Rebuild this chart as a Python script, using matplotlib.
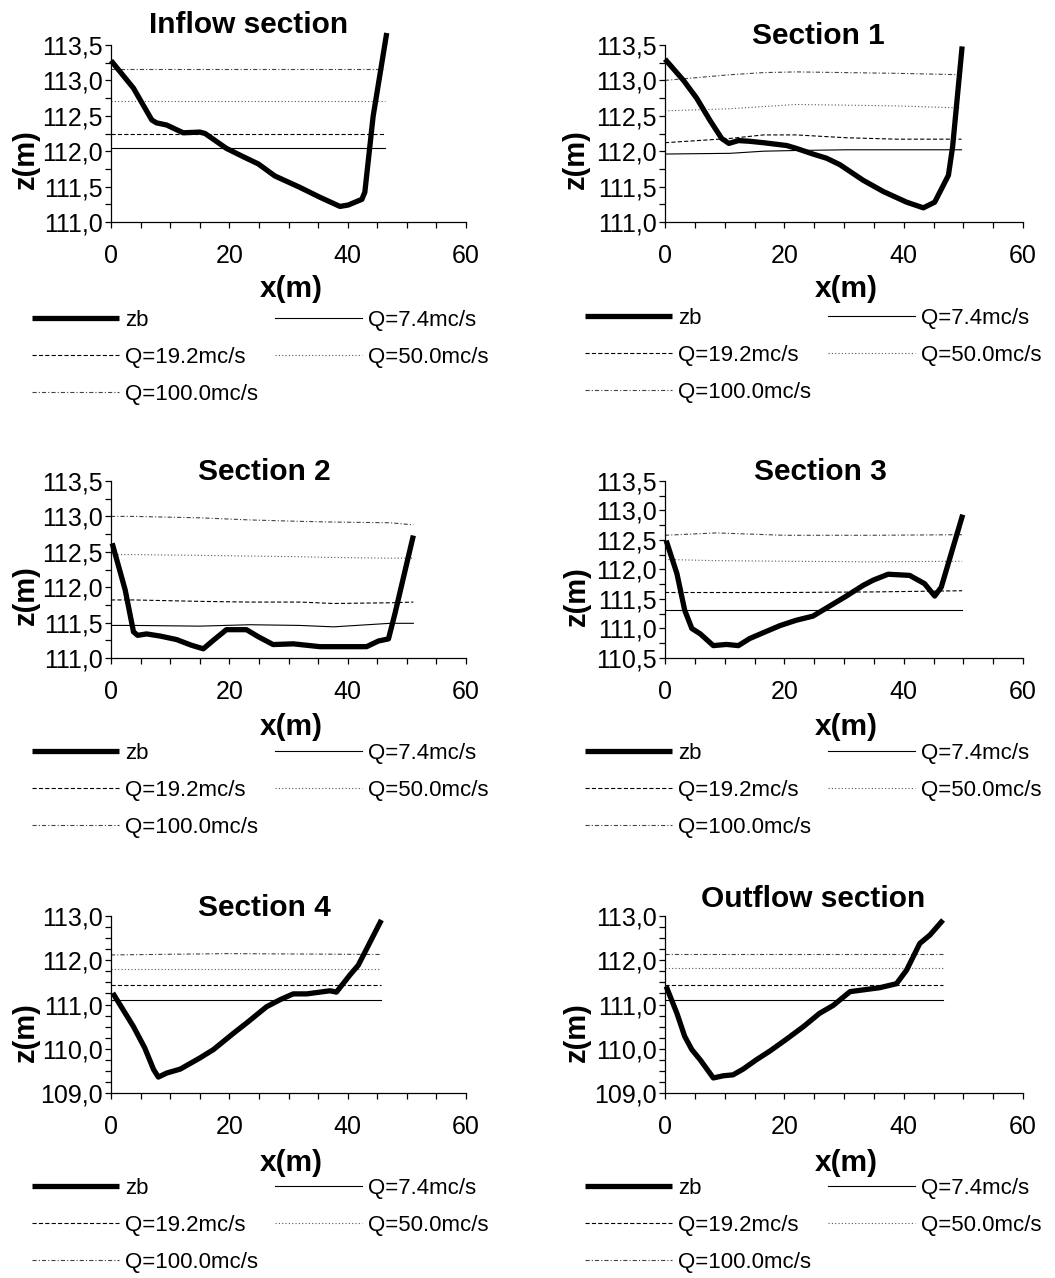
import matplotlib
matplotlib.use('Agg')
import matplotlib.pyplot as plt
from matplotlib.ticker import MultipleLocator, FuncFormatter

plt.rcParams['font.family'] = ['Liberation Sans', 'DejaVu Sans']
plt.rcParams['lines.scale_dashes'] = False

titles = ["Inflow section", "Section 1", "Section 2", "Section 3", "Section 4", "Outflow section"]
labels = ["zb", "Q=7.4mc/s", "Q=19.2mc/s", "Q=50.0mc/s", "Q=100.0mc/s"]

# ---- Inflow section ----
inflow_x = [0, 3.8, 6.9, 7.7, 9.4, 12.2, 15.0, 15.9, 19.5, 22.4, 24.9, 27.7, 31.9, 35.3, 38.7, 40.1, 42.4, 42.9, 44.3, 46.6]
inflow_zb = [113.28, 112.89, 112.44, 112.40, 112.37, 112.26, 112.27, 112.25, 112.04, 111.92, 111.82, 111.65, 111.49, 111.35, 111.22, 111.24, 111.32, 111.42, 112.49, 113.67]
inflow_wx = [0, 46.3]
inflow_q7 = [112.04, 112.04]
inflow_q19 = [112.24, 112.24]
inflow_q50 = [112.71, 112.71]
inflow_q100 = [113.16, 113.16]

# ---- Section 1 ----
sec1_x = [0, 3.1, 5.3, 7.5, 9.5, 10.7, 12.3, 14.2, 16.5, 20.4, 22.0, 24.8, 27.1, 29.3, 33.2, 36.6, 40.5, 43.3, 45.2, 47.5, 48.2, 49.8]
sec1_zb = [113.30, 113.00, 112.75, 112.44, 112.18, 112.11, 112.15, 112.14, 112.12, 112.08, 112.04, 111.96, 111.90, 111.81, 111.59, 111.43, 111.28, 111.20, 111.28, 111.66, 112.06, 113.48]
sec1_wx = [0, 10.9, 16.5, 22.0, 30.4, 38.8, 49.7]
sec1_q7 = [111.96, 111.97, 112.00, 112.01, 112.02, 112.02, 112.02]
sec1_q19 = [112.12, 112.18, 112.23, 112.23, 112.19, 112.17, 112.17]
sec1_q50 = [112.57, 112.60, 112.63, 112.66, 112.65, 112.64, 112.61]
sec1_q100 = [113.00, 113.08, 113.11, 113.12, 113.11, 113.10, 113.08]

# ---- Section 2 ----
sec2_x = [0.2, 2.4, 3.8, 4.5, 6.0, 8.3, 11.1, 13.6, 15.6, 17.3, 19.5, 22.9, 24.9, 27.4, 30.8, 35.3, 38.1, 43.2, 45.2, 46.9, 48.0, 51.1]
sec2_zb = [112.62, 111.96, 111.37, 111.32, 111.34, 111.31, 111.26, 111.18, 111.13, 111.25, 111.40, 111.40, 111.30, 111.19, 111.20, 111.16, 111.16, 111.16, 111.24, 111.27, 111.63, 112.73]
sec2_wx = [0, 3.8, 15.0, 23.5, 31.9, 37.6, 47.2, 51.1]
sec2_q7 = [111.46, 111.46, 111.45, 111.47, 111.46, 111.44, 111.49, 111.49]
sec2_q19 = [111.82, 111.82, 111.80, 111.79, 111.79, 111.77, 111.78, 111.79]
sec2_q50 = [112.46, 112.46, 112.45, 112.44, 112.43, 112.42, 112.41, 112.41]
sec2_q100 = [113.00, 113.00, 112.98, 112.95, 112.93, 112.92, 112.91, 112.88]

# ---- Section 3 ----
sec3_x = [0.2, 2.0, 3.3, 4.5, 5.9, 8.1, 10.3, 12.3, 14.2, 16.5, 19.3, 22.0, 24.8, 27.6, 30.4, 33.2, 34.9, 37.4, 41.0, 43.5, 45.2, 46.3, 49.9]
sec3_zb = [112.49, 111.93, 111.31, 111.00, 110.91, 110.71, 110.73, 110.71, 110.83, 110.93, 111.05, 111.14, 111.21, 111.38, 111.55, 111.73, 111.82, 111.92, 111.90, 111.76, 111.55, 111.70, 112.93]
sec3_wx = [0, 8.6, 20.0, 35.0, 49.8]
sec3_q7 = [111.32, 111.32, 111.32, 111.32, 111.32]
sec3_q19 = [111.61, 111.61, 111.61, 111.62, 111.64]
sec3_q50 = [112.17, 112.15, 112.14, 112.13, 112.14]
sec3_q100 = [112.58, 112.62, 112.58, 112.58, 112.59]

# ---- Section 4 ----
sec4_x = [0.3, 3.8, 5.7, 7.2, 8.0, 9.4, 11.7, 15.0, 17.3, 20.7, 22.9, 26.3, 28.6, 30.8, 33.1, 37.0, 38.1, 40.4, 41.8, 45.7]
sec4_zb = [111.26, 110.50, 110.02, 109.53, 109.36, 109.45, 109.54, 109.79, 109.98, 110.35, 110.58, 110.95, 111.11, 111.24, 111.24, 111.31, 111.28, 111.67, 111.89, 112.91]
sec4_wx = [0, 20.0, 45.7]
sec4_q7 = [111.10, 111.10, 111.10]
sec4_q19 = [111.43, 111.43, 111.43]
sec4_q50 = [111.80, 111.80, 111.80]
sec4_q100 = [112.12, 112.15, 112.13]

# ---- Outflow section ----
outflow_x = [0.2, 2.0, 3.3, 4.5, 5.9, 8.1, 9.8, 11.4, 13.1, 15.3, 17.6, 20.4, 23.2, 25.9, 28.2, 31.0, 33.2, 36.0, 38.8, 40.5, 42.7, 44.4, 46.6]
outflow_zb = [111.41, 110.80, 110.28, 109.98, 109.75, 109.34, 109.39, 109.41, 109.54, 109.75, 109.95, 110.22, 110.50, 110.80, 110.98, 111.29, 111.33, 111.38, 111.47, 111.78, 112.38, 112.57, 112.91]
outflow_wx = [0, 20.0, 46.6]
outflow_q7 = [111.10, 111.10, 111.10]
outflow_q19 = [111.43, 111.43, 111.43]
outflow_q50 = [111.82, 111.82, 111.82]
outflow_q100 = [112.14, 112.14, 112.14]

ylims = [(111.0, 113.5), (111.0, 113.5), (111.0, 113.5), (110.5, 113.5), (109.0, 113.0), (109.0, 113.0)]
ymajor = [0.5, 0.5, 0.5, 0.5, 1.0, 1.0]

sections = [
    (inflow_x, inflow_zb, inflow_wx, inflow_q7, inflow_q19, inflow_q50, inflow_q100),
    (sec1_x, sec1_zb, sec1_wx, sec1_q7, sec1_q19, sec1_q50, sec1_q100),
    (sec2_x, sec2_zb, sec2_wx, sec2_q7, sec2_q19, sec2_q50, sec2_q100),
    (sec3_x, sec3_zb, sec3_wx, sec3_q7, sec3_q19, sec3_q50, sec3_q100),
    (sec4_x, sec4_zb, sec4_wx, sec4_q7, sec4_q19, sec4_q50, sec4_q100),
    (outflow_x, outflow_zb, outflow_wx, outflow_q7, outflow_q19, outflow_q50, outflow_q100),
]

W, H = 1055, 1278
fig = plt.figure(figsize=(W / 100, H / 100), dpi=100)

cols = [(111, 466), (665, 1023)]
rows = [(45, 222), (481, 658), (916, 1093)]
title_pos = [(249, 33), (818, 44), (264, 480), (820, 480), (264, 916), (813, 907)]
ylab_pos = [(26, 159), (576, 159), (26, 595), (577, 596), (26, 1032), (577, 1032)]
xlab_pos = [(291, 289), (846, 289), (291, 727), (846, 727), (291, 1163), (846, 1163)]
leg_pos = [(32, 310), (585, 308), (32, 743), (585, 743), (32, 1178), (585, 1178)]

fmt = FuncFormatter(lambda v, p: f"{v:.1f}".replace('.', ','))

styles = [
    dict(color='black', lw=3.8, ls='-', solid_capstyle='butt'),
    dict(color='black', lw=0.8, ls='-'),
    dict(color='black', lw=0.8, ls=(0, (3, 1.6))),
    dict(color='#555555', lw=0.8, ls=(0, (0.8, 1.6))),
    dict(color='#444444', lw=0.8, ls=(0, (3, 1.5, 0.8, 1.5))),
]

def fx(px):
    return px / W

def fy(py):
    return 1 - py / H

for i, sec in enumerate(sections):
    r, c = divmod(i, 2)
    l, rr = cols[c]
    t, b = rows[r]
    ax = fig.add_axes([l / W, 1 - b / H, (rr - l) / W, (b - t) / H])
    xs, zb, wx, q7, q19, q50, q100 = sec
    h = []
    h += ax.plot(wx, q7, **styles[1], label=labels[1])
    h += ax.plot(wx, q19, **styles[2], label=labels[2])
    h += ax.plot(wx, q50, **styles[3], label=labels[3])
    h += ax.plot(wx, q100, **styles[4], label=labels[4])
    hz = ax.plot(xs, zb, **styles[0], label=labels[0], clip_on=False, zorder=5)
    ax.set_xlim(0, 60)
    ax.set_ylim(*ylims[i])
    ax.spines['top'].set_visible(False)
    ax.spines['right'].set_visible(False)
    ax.spines['left'].set_linewidth(0.9)
    ax.spines['bottom'].set_linewidth(0.9)
    ax.xaxis.set_major_locator(MultipleLocator(20))
    ax.xaxis.set_minor_locator(MultipleLocator(5))
    ax.yaxis.set_major_locator(MultipleLocator(ymajor[i]))
    ax.yaxis.set_minor_locator(MultipleLocator(0.25))
    ax.yaxis.set_major_formatter(fmt)
    ax.tick_params(axis='both', which='both', direction='out', length=4, width=0.9, labelsize=18)
    ax.tick_params(axis='x', which='major', pad=12)
    ax.tick_params(axis='y', which='major', pad=2)
    # titles and axis labels
    tx, ty = title_pos[i]
    fig.text(fx(tx), fy(ty), titles[i], ha='center', va='baseline', fontsize=21.5, fontweight='bold')
    yx, yy = ylab_pos[i]
    fig.text(fx(yx), fy(yy), "z(m)", ha='center', va='center', rotation=90, fontsize=21, fontweight='bold')
    xx, xy = xlab_pos[i]
    fig.text(fx(xx), fy(xy), "x(m)", ha='center', va='center', fontsize=21.5, fontweight='bold')
    # legend (row-wise order)
    handles = [hz[0], h[1], h[3], h[0], h[2]]
    labs = [labels[0], labels[2], labels[4], labels[1], labels[3]]
    lx, ly = leg_pos[i]
    ax.legend(handles, labs, ncol=2, loc='upper left', bbox_to_anchor=(fx(lx), fy(ly)),
              bbox_transform=fig.transFigure, frameon=False, fontsize=16,
              handlelength=3.9, handletextpad=0.3, columnspacing=0.75,
              labelspacing=0.72, borderpad=0, borderaxespad=0)

fig.savefig('out.png', dpi=100)
